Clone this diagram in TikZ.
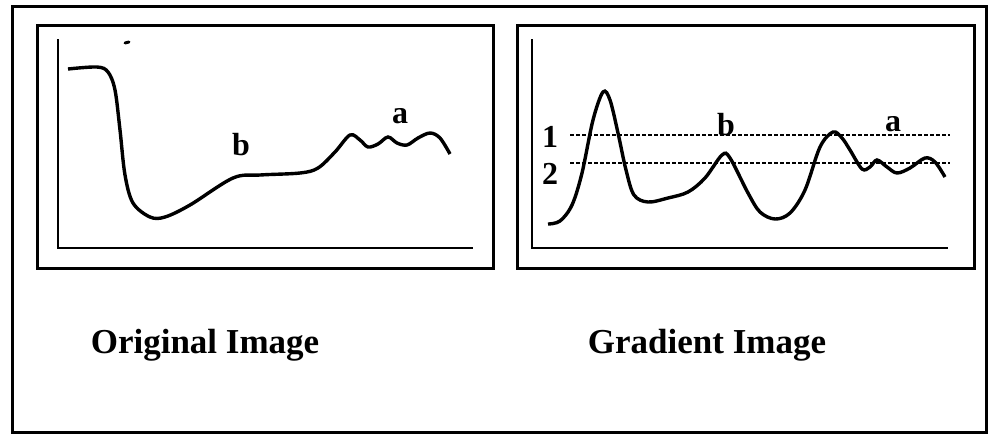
\documentclass[tikz,border=0pt]{standalone}
\usepackage{fontspec}
\setmainfont{Liberation Serif}
\usepackage{tikz}
\usetikzlibrary{positioning}

\begin{document}
\begin{tikzpicture}[x=0.5pt, y=-0.5pt, every node/.style={font=\bfseries\fontsize{16}{18}\selectfont, inner sep=0pt},
  frame/.style={line width=1.5pt},
  axis/.style={line width=1pt},
  curve/.style={line width=1.7pt, smooth, tension=0.55},
  level/.style={line width=1.3pt, dash pattern=on 2pt off 1pt},
  caption/.style={font=\bfseries\fontsize{17.5}{20}\selectfont}]

\useasboundingbox (0,0) rectangle (990,441);

% Ramka zewnetrzna i dwa okna
\draw[frame] (12,6) rectangle (986,432);
\draw[frame] (37,25) rectangle (493,268);
\draw[frame] (517,25) rectangle (974,268);

% Osie w obu oknach
\foreach \x/\xe in {58/473, 532/948} {
  \draw[axis] (\x,39) -- (\x,248) -- (\xe,248);
}

% Obraz oryginalny
\draw[curve] plot coordinates {(68,69) (97,67) (108,72) (115,90) (120,130) (125,175)
  (133,203) (150,217) (165,217) (190,205) (233,178) (260,175) (300,173) (318,168)
  (335,152) (350,135) (360,140) (368,147) (378,144) (388,137) (397,143) (407,145)
  (418,138) (430,133) (440,138) (450,154)};
\draw[line width=1.5pt, line cap=round] (125,43) -- (129,42);
\node (ob) at (241,145) {b};
\node (oa) at (400,116) {a};

% Obraz gradientu
\draw[curve] plot coordinates {(548,224) (560,221) (572,205) (582,173) (593,120)
  (603,92) (610,100) (618,133) (626,170) (634,195) (648,202) (668,198) (688,192)
  (705,178) (722,155) (730,158) (748,193) (760,212) (775,219) (790,213) (805,190)
  (820,147) (833,132) (842,138) (850,150) (862,169) (870,167) (877,160) (887,167)
  (897,173) (910,168) (925,158) (935,162) (945,177)};

% Progi 1 i 2
\foreach \i/\y in {1/135, 2/163} {
  \coordinate (s\i) at (570,\y);
  \coordinate (e\i) at (950,\y);
  \draw[level] (s\i) -- (e\i);
}
\node (t1) at (550,137) {1};
\node (t2) at (550,174) {2};
\node (gb) at (726,125) {b};
\node (ga) at (893,124) {a};

% Podpisy
\node[caption] (orig) at (205,345) {Original Image};
\node[caption] (grad) at (707,345) {Gradient Image};

\end{tikzpicture}
\end{document}
